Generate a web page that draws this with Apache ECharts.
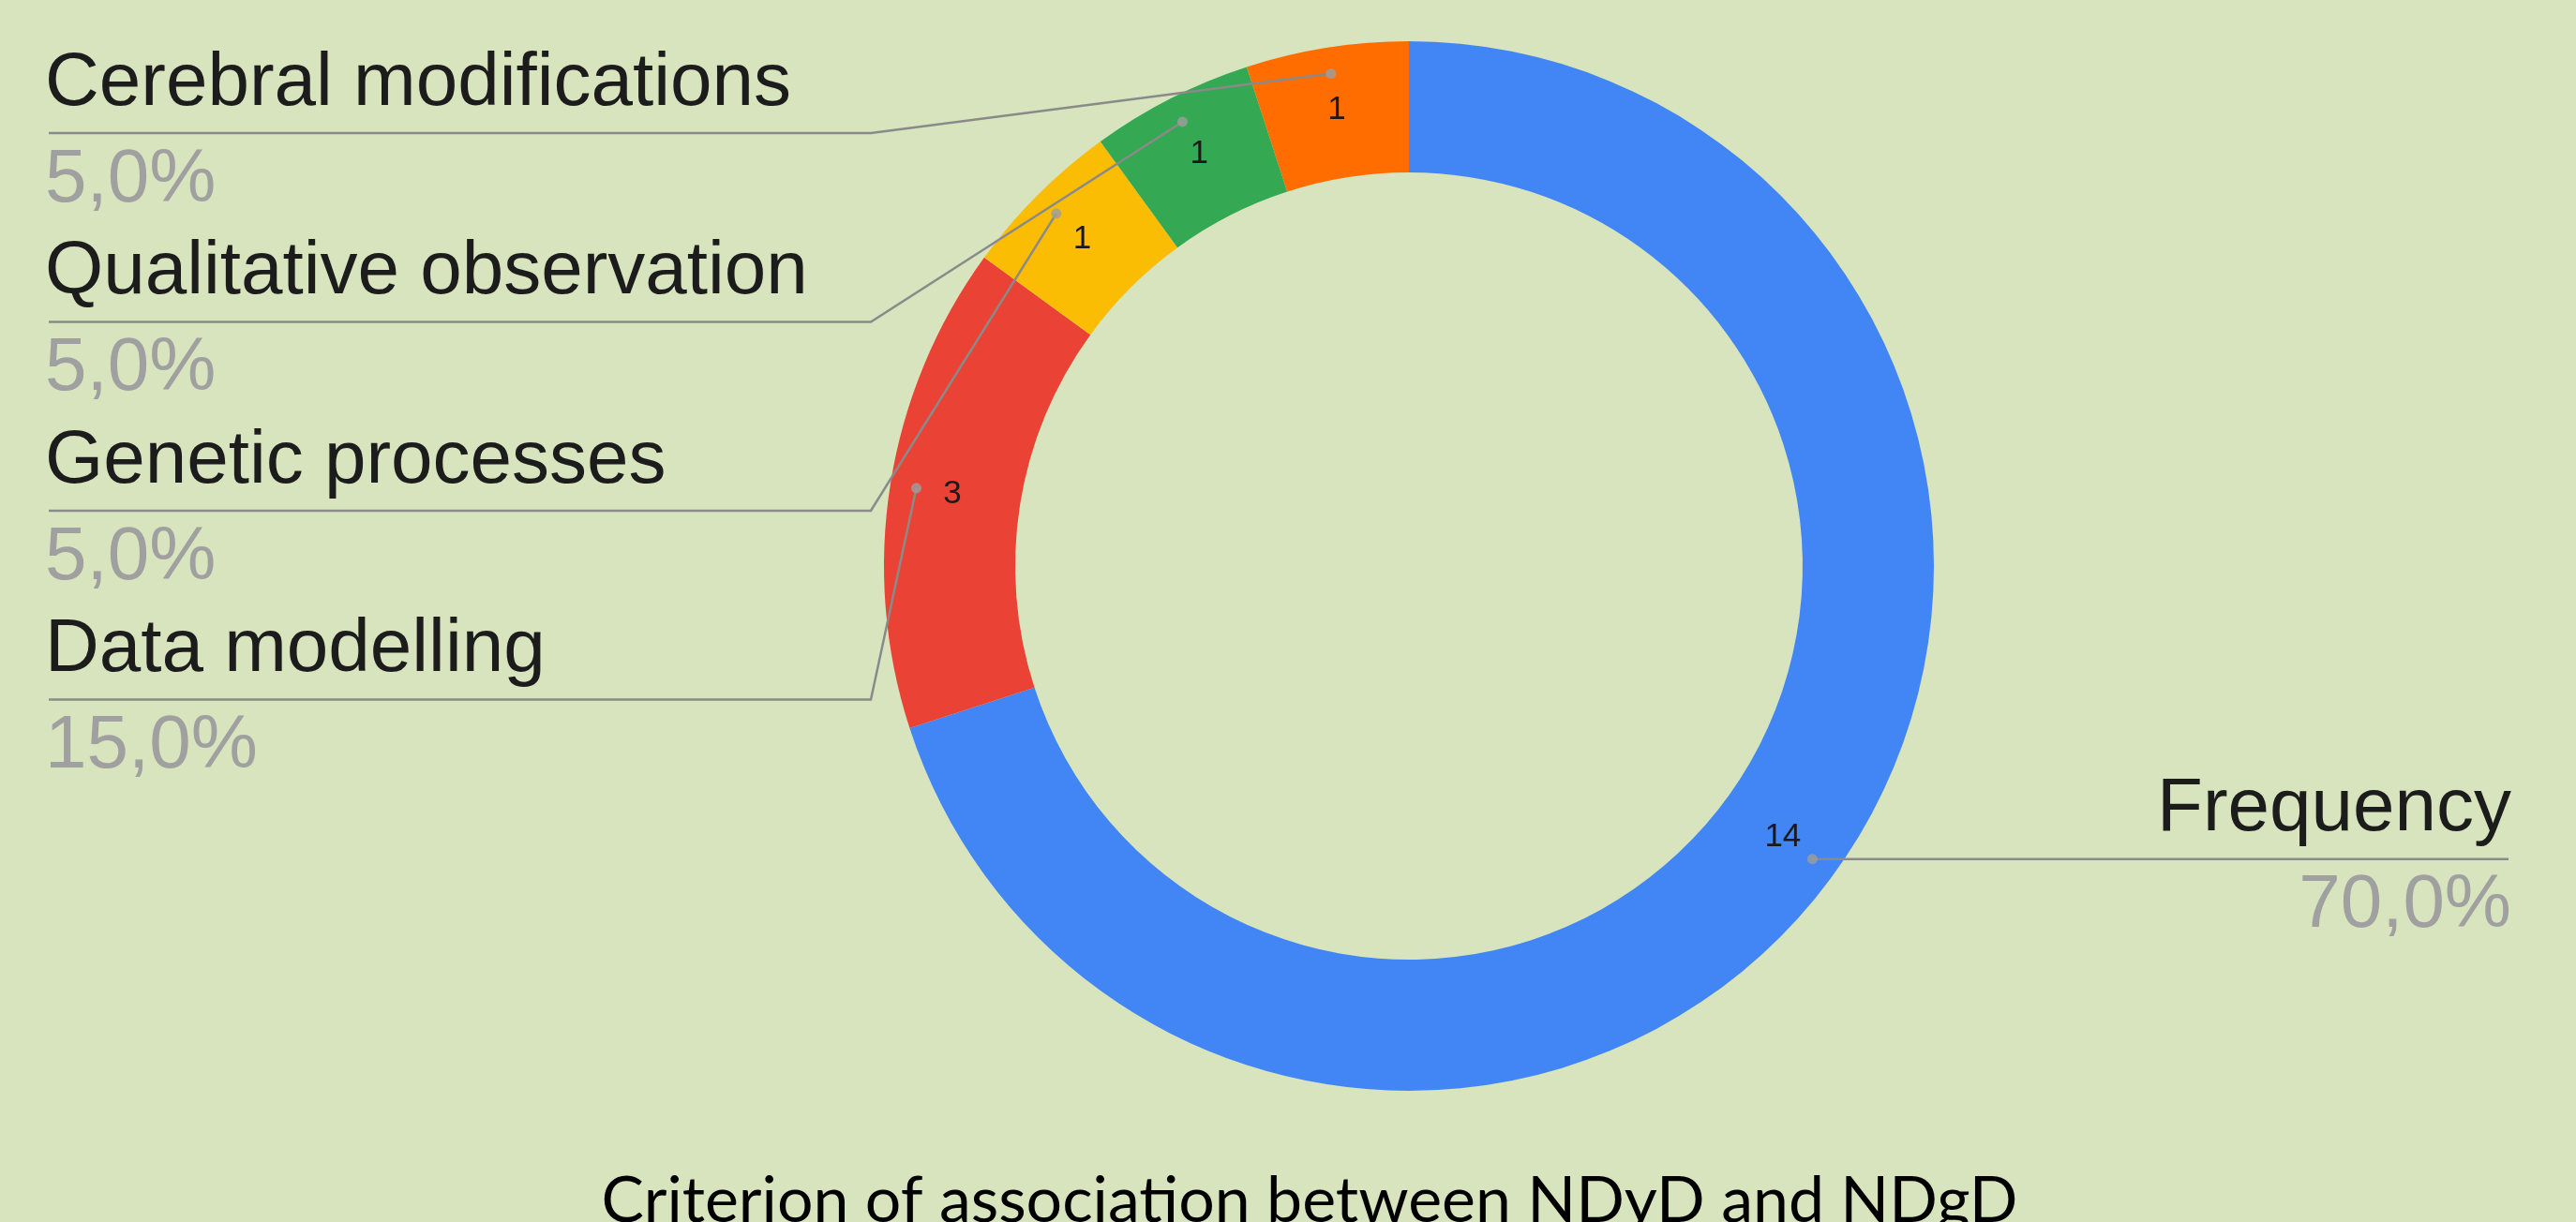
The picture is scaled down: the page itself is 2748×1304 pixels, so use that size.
<!DOCTYPE html>
<html>
<head>
<meta charset="utf-8">
<script src="https://cdn.jsdelivr.net/npm/echarts@6/dist/echarts.min.js"></script>
<style>
  html, body { margin: 0; padding: 0; background: #D7E4BD; }
  #chart { width: 2748px; height: 1304px; }
</style>
</head>
<body>
<div id="chart"></div>
<script>
// ---- data ----
const categories = ['Frequency', 'Data modelling', 'Genetic processes', 'Qualitative observation', 'Cerebral modifications'];
const counts = [14, 3, 1, 1, 1];
const sliceColors = ['#4285F4', '#EA4335', '#FBBC04', '#34A853', '#FF6D01'];
const titleText = 'Criterion of association between NDyD and NDgD';

// ---- layout ----
const CX = 1503, CY = 604, R_IN = 420, R_OUT = 560, R_DOT = 532;
const LEFT_TEXT_X = 48, LEFT_LINE_X = 52, BEND_X = 929;
const SLOT_TOP = 142, SLOT_STEP = 201.5;
const RIGHT_TEXT_X = 2679, RIGHT_LINE_X = 2676, RIGHT_BEND_X = 2129;
const NAME_LH = 105, PCT_LH = 101;
const SANS = "Arial, 'Liberation Sans', sans-serif";

const total = counts.reduce((a, b) => a + b, 0);
const pct = v => (v / total * 100).toFixed(1).replace('.', ',') + '%';
function midFrac(i) {
  let c = 0;
  for (let k = 0; k < i; k++) c += counts[k];
  return c + counts[i] / 2;
}
function pointAt(i, r) {
  const t = midFrac(i) / total * Math.PI * 2;
  return [CX + r * Math.sin(t), CY - r * Math.cos(t)];
}

const pieData = categories.map((n, i) => ({ name: n, value: counts[i], itemStyle: { color: sliceColors[i] } }));
const labelData = categories.map((n, i) => ({ name: n, value: counts[i] }));
const dotData = categories.map((n, i) => [R_DOT, midFrac(i)]);

const chart = echarts.init(document.getElementById('chart'));
chart.setOption({
  backgroundColor: '#D7E4BD',
  animation: false,
  textStyle: { fontFamily: SANS },
  polar: { center: [CX, CY], radius: R_OUT },
  angleAxis: { type: 'value', min: 0, max: total, startAngle: 90, clockwise: true, show: false },
  radiusAxis: { type: 'value', min: 0, max: R_OUT, show: false },
  graphic: [{
    type: 'text', x: 1397, y: 1248, silent: true,
    style: { text: titleText, align: 'center', verticalAlign: 'top',
      font: 'normal 68px Lato', fill: '#000' }
  }],
  series: [
    {
      type: 'pie', center: [CX, CY], radius: [R_IN, R_OUT], startAngle: 90, clockwise: true,
      silent: true, avoidLabelOverlap: false, z: 2,
      data: pieData,
      label: { show: true, position: 'inside', formatter: '{c}', fontFamily: SANS,
        fontSize: 35, color: '#1a1a1a' },
      labelLine: { show: false },
      emphasis: { disabled: true }
    },
    {
      type: 'pie', center: [CX, CY], radius: [R_IN, R_DOT], startAngle: 90, clockwise: true,
      silent: true, avoidLabelOverlap: false, z: 4,
      data: labelData,
      itemStyle: { color: 'rgba(0,0,0,0)' },
      label: {
        show: true, position: 'outside',
        formatter: p => '{n|' + p.name + '}\n{p|' + pct(p.value) + '}',
        rich: {
          n: { fontFamily: SANS, fontSize: 80, color: '#1c1c1c', lineHeight: NAME_LH },
          p: { fontFamily: SANS, fontSize: 80, color: '#a0a0a0', lineHeight: PCT_LH }
        }
      },
      labelLine: { show: true, lineStyle: { color: '#8a8a8a', width: 2.5 } },
      labelLayout: function (params) {
        const i = params.dataIndex;
        const start = pointAt(i, R_DOT);
        if (i === 0) {
          const y = start[1];
          return { x: RIGHT_TEXT_X, y: y - NAME_LH, align: 'right', verticalAlign: 'top',
            labelLinePoints: [start, [RIGHT_BEND_X, y], [RIGHT_LINE_X, y]] };
        }
        const slot = categories.length - 1 - i;
        const uy = SLOT_TOP + slot * SLOT_STEP;
        return { x: LEFT_TEXT_X, y: uy - NAME_LH, align: 'left', verticalAlign: 'top',
          labelLinePoints: [start, [BEND_X, uy], [LEFT_LINE_X, uy]] };
      },
      emphasis: { disabled: true }
    },
    {
      type: 'scatter', coordinateSystem: 'polar', silent: true,
      data: dotData, symbol: 'circle', symbolSize: 11,
      itemStyle: { color: '#9e9e9e' }, z: 6
    }
  ]
});
</script>
</body>
</html>
